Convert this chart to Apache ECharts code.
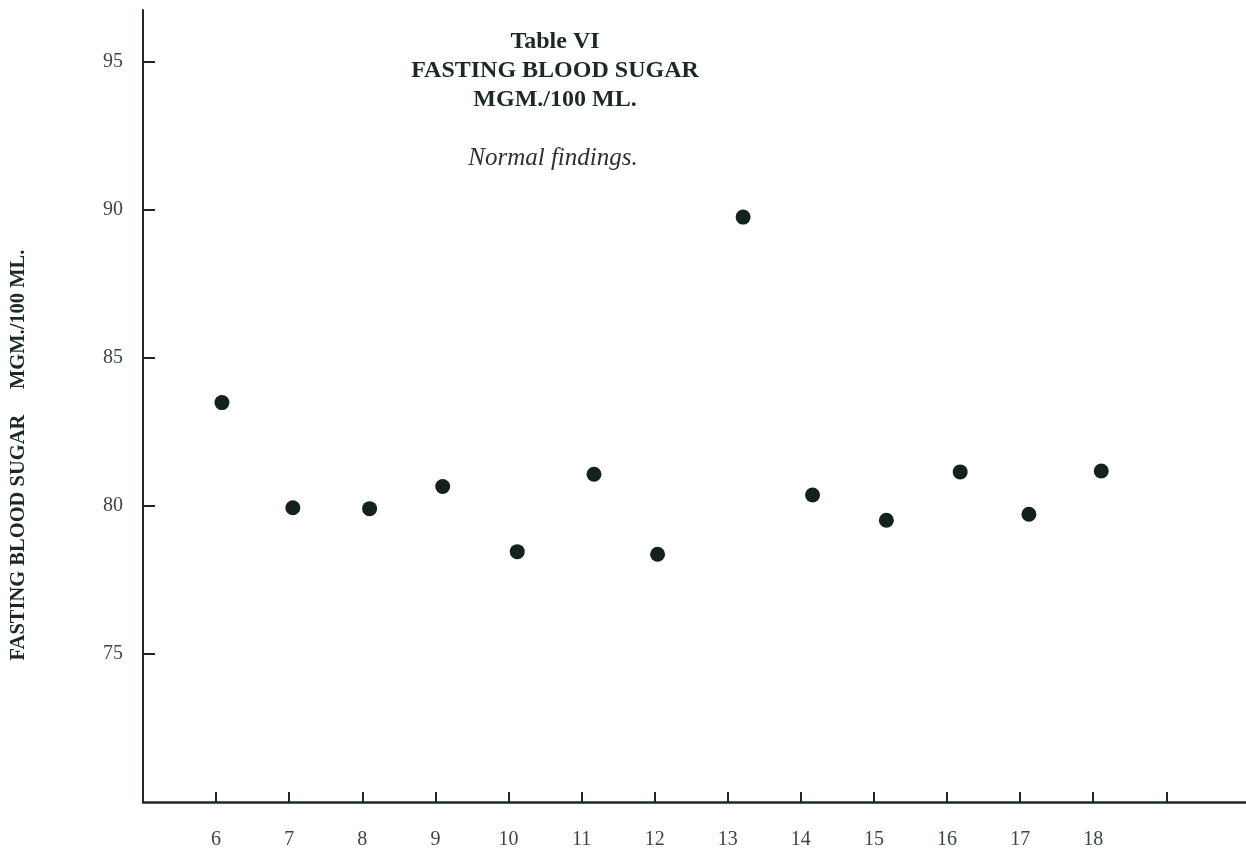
<!DOCTYPE html>
<html>
<head>
<meta charset="utf-8">
<script src="https://cdn.jsdelivr.net/npm/echarts@6/dist/echarts.min.js"></script>
<style>
html,body{margin:0;padding:0;background:#ffffff;}
#chart{width:1246px;height:854px;}
</style>
</head>
<body>
<div id="chart"></div>
<script>
// Data
const ages = [6.08, 7.05, 8.10, 9.10, 10.12, 11.17, 12.04, 13.21, 14.16, 15.17, 16.18, 17.12, 18.11];
const sugar = [83.48, 79.93, 79.90, 80.65, 78.45, 81.06, 78.36, 89.74, 80.36, 79.51, 81.14, 79.71, 81.17];
const xTickValues = [6, 7, 8, 9, 10, 11, 12, 13, 14, 15, 16, 17, 18, 19];
const xLabelValues = [6, 7, 8, 9, 10, 11, 12, 13, 14, 15, 16, 17, 18];
const yTickValues = [75, 80, 85, 90, 95];
const titleLines = ['Table VI', 'FASTING BLOOD SUGAR', 'MGM./100 ML.'];
const subtitle = 'Normal findings.';
const yAxisName = 'FASTING BLOOD SUGAR     MGM./100 ML.';

const ink = '#1b2a22';
const labelColor = '#3b463f';
const serif = '"Liberation Serif", "DejaVu Serif", serif';

const chart = echarts.init(document.getElementById('chart'));
const points = ages.map((a, i) => [a, sugar[i]]);

chart.setOption({
  backgroundColor: '#ffffff',
  animation: false,
  grid: { left: 143, right: 0, top: 10, bottom: 52, containLabel: false },
  xAxis: {
    type: 'value',
    min: 5,
    max: 20.09,
    axisLine: { show: true, onZero: false, lineStyle: { color: ink, width: 2.5 } },
    axisTick: { show: true, inside: true, length: 10, customValues: xTickValues, lineStyle: { color: ink, width: 2 } },
    axisLabel: { show: true, customValues: xLabelValues, margin: 28, color: labelColor, fontFamily: serif, fontSize: 20 },
    splitLine: { show: false }
  },
  yAxis: {
    type: 'value',
    min: 70,
    max: 96.73,
    axisLine: { show: true, onZero: false, lineStyle: { color: ink, width: 2 } },
    axisTick: { show: true, inside: true, length: 12, customValues: yTickValues, lineStyle: { color: ink, width: 2 } },
    axisLabel: { show: true, customValues: yTickValues, margin: 20, color: labelColor, fontFamily: serif, fontSize: 20 },
    splitLine: { show: false }
  },
  graphic: [
    {
      type: 'text', x: 555, y: 42,
      style: { text: titleLines[0], font: 'bold 24px ' + serif, fill: ink, textAlign: 'center', textVerticalAlign: 'middle' }
    },
    {
      type: 'text', x: 555, y: 71,
      style: { text: titleLines[1], font: 'bold 24px ' + serif, fill: ink, textAlign: 'center', textVerticalAlign: 'middle' }
    },
    {
      type: 'text', x: 555, y: 100,
      style: { text: titleLines[2], font: 'bold 24px ' + serif, fill: ink, textAlign: 'center', textVerticalAlign: 'middle' }
    },
    {
      type: 'text', x: 553, y: 158,
      style: { text: subtitle, font: 'italic 25px ' + serif, fill: '#2a332d', textAlign: 'center', textVerticalAlign: 'middle' }
    },
    {
      type: 'text', x: 19, y: 455, rotation: Math.PI / 2,
      style: { text: yAxisName, font: 'bold 20.5px ' + serif, fill: ink, textAlign: 'center', textVerticalAlign: 'middle' }
    }
  ],
  series: [{
    type: 'scatter',
    data: points,
    symbol: 'circle',
    symbolSize: 15,
    itemStyle: { color: '#13221b', opacity: 1 }
  }]
});
</script>
</body>
</html>
